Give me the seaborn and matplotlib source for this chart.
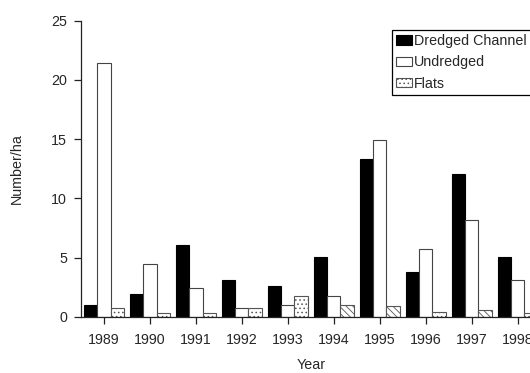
import matplotlib
matplotlib.use('Agg')
import matplotlib.pyplot as plt
import seaborn as sns
import pandas as pd
from matplotlib.patches import Patch

years = ['1989', '1990', '1991', '1992', '1993', '1994', '1995', '1996', '1997', '1998']
dredged = [1.0, 1.95, 6.05, 3.15, 2.65, 5.05, 13.3, 3.8, 12.05, 5.05]
undredged = [21.45, 4.5, 2.45, 0.75, 1.05, 1.8, 14.9, 5.75, 8.2, 3.1]
flats = [0.75, 0.3, 0.3, 0.75, 1.8, 1.05, 0.9, 0.4, 0.62, 0.3]
series = ['Dredged Channel', 'Undredged', 'Flats']
yticks = [0, 5, 10, 15, 20, 25]

# styling (not data)
flat_hatches = ['....', '....', '....', '....', '....', '\\\\\\\\\\', '\\\\\\\\\\', '....', '\\\\\\\\\\', '....']

df = pd.DataFrame({
    'Year': years * 3,
    'Value': dredged + undredged + flats,
    'Site': [series[0]] * len(years) + [series[1]] * len(years) + [series[2]] * len(years),
})

sns.set_style('white')
plt.rcParams['font.family'] = ['Liberation Sans', 'DejaVu Sans']
plt.rcParams['hatch.linewidth'] = 0.6

fig = plt.figure(figsize=(5.3, 3.73), dpi=100)
ax = fig.add_axes([81 / 530, 56 / 373, 459.5 / 530, 296.5 / 373])

sns.barplot(data=df, x='Year', y='Value', hue='Site', order=years, hue_order=series,
            palette=['black', 'white', 'white'], width=0.87, gap=0, saturation=1,
            edgecolor='black', linewidth=0.8, ax=ax, legend=False)

for bar in ax.containers[0]:
    bar.set_edgecolor('black')
for bar in ax.containers[1]:
    bar.set_edgecolor('#444444')
for bar, h in zip(ax.containers[2], flat_hatches):
    bar.set_hatch(h)
    bar.set_edgecolor('#555555')
    bar.set_facecolor('white')

ax.set_xlim(-0.5, 9.5)
ax.set_ylim(0, 25)
ax.set_yticks(yticks)
ax.set_yticklabels([str(t) for t in yticks])

for s in ['top', 'right']:
    ax.spines[s].set_visible(False)
for s in ['left', 'bottom']:
    ax.spines[s].set_color('#222222')
    ax.spines[s].set_linewidth(0.9)

ax.tick_params(axis='y', direction='out', length=5, width=0.9, color='#222222', pad=5, labelsize=10.3, left=True)
ax.tick_params(axis='x', direction='out', length=5, width=0.9, color='#222222', pad=6.5, labelsize=10.3, bottom=True)

ax.set_xlabel('Year', fontsize=10.3, labelpad=8)
ax.set_ylabel('Number/ha', fontsize=10.3, labelpad=20)

handles = [
    Patch(facecolor='black', edgecolor='black', linewidth=0.8),
    Patch(facecolor='white', edgecolor='#444444', linewidth=0.8),
    Patch(facecolor='white', edgecolor='#555555', hatch='....', linewidth=0.8),
]
leg = ax.legend(handles, series, loc='upper left', bbox_to_anchor=(392 / 530, 1 - 30 / 373),
                bbox_transform=fig.transFigure, fontsize=10.3, frameon=True, fancybox=False,
                framealpha=1, edgecolor='black', borderpad=0.3, labelspacing=0.5,
                handlelength=1.1, handleheight=0.65, handletextpad=0.15, borderaxespad=0)
leg.get_frame().set_linewidth(0.9)

fig.savefig('out.png', dpi=100)
